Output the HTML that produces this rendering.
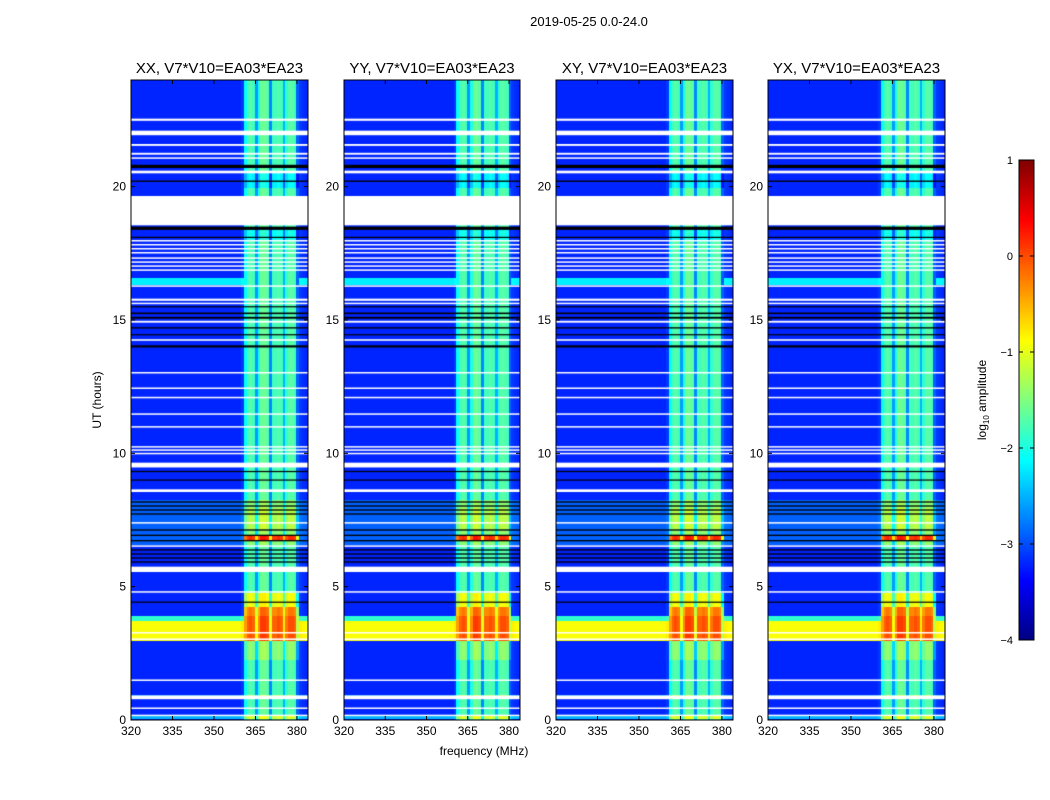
<!DOCTYPE html>
<html><head><meta charset="utf-8">
<style>
body{margin:0;background:#fff;width:1050px;height:800px;overflow:hidden;font-family:"Liberation Sans",sans-serif;}
#wrap{position:relative;width:1050px;height:800px;}
canvas{position:absolute;}
svg{position:absolute;left:0;top:0;}
</style></head><body>
<div id="wrap">
<canvas id="c0" width="177" height="640" style="left:131px;top:80px"></canvas>
<canvas id="c1" width="176" height="640" style="left:344px;top:80px"></canvas>
<canvas id="c2" width="177" height="640" style="left:556px;top:80px"></canvas>
<canvas id="c3" width="177" height="640" style="left:768px;top:80px"></canvas>
<canvas id="cb" width="15" height="480" style="left:1019px;top:160px"></canvas>
<svg id="s" width="1050" height="800"></svg>
</div>
<script>
const panelTitles=["XX, V7*V10=EA03*EA23","YY, V7*V10=EA03*EA23","XY, V7*V10=EA03*EA23","YX, V7*V10=EA03*EA23"];
const xTicks=[320,335,350,365,380];
const yTicks=[0,5,10,15,20];
const cbTicks=[1,0,-1,-2,-3,-4];
// frequency profile, 1 MHz bins from 320 to 383
const freqProfile=[-3.2,-3.2,-3.2,-3.2,-3.2,-3.2,-3.2,-3.2,-3.2,-3.2,-3.2,-3.2,-3.2,-3.2,-3.2,-3.2,-3.2,-3.2,-3.2,-3.2,-3.2,-3.2,-3.2,-3.2,-3.2,-3.2,-3.2,-3.2,-3.2,-3.2,-3.2,-3.2,-3.2,-3.2,-3.2,-3.2,-3.2,-3.2,-3.2,-3.2,-3.1,-2.1,-1.8,-1.7,-1.8,-2.6,-2.0,-1.6,-1.6,-1.7,-2.7,-1.8,-1.8,-1.7,-1.8,-2.5,-1.9,-1.7,-1.7,-1.8,-2.9,-3.1,-3.15,-3.2];
// time segments [startHour,endHour,offset] applied to all channels
const timeOffset=[[16.35,16.6,1.0],[5.6,5.8,0.8],[3.0,3.75,2.3],[3.75,3.95,1.3],[0.1,0.25,0.7],[0.9,1.0,0.5],[6.6,8.3,0.3]];
// time segments [startHour,endHour,boost] applied to bright band channels
const bandBoost=[[3.0,3.75,-0.6],[3.75,3.95,0.4],[3.95,4.3,1.5],[4.3,4.8,0.8],[6.8,7.0,1.6],[2.3,3.0,0.3],[7.2,8.0,0.2],[20.0,20.6,-0.4],[18.0,18.5,-0.3],[16.35,16.6,-1.0],[5.6,5.8,-0.8]];
// flagged (white) intervals in hours
const flagged=[[22.47,22.55],[21.93,22.1],[21.53,21.6],[21.2,21.27],[21.05,21.1],[20.5,20.6],[18.55,19.65],[17.95,18.0],[17.8,17.85],[17.65,17.7],[17.5,17.55],[17.3,17.35],[17.15,17.2],[17.0,17.05],[16.85,16.9],[16.25,16.3],[15.72,15.8],[15.6,15.65],[14.9,14.97],[14.22,14.28],[13.0,13.05],[12.42,12.47],[12.07,12.12],[11.45,11.5],[10.97,11.02],[10.22,10.27],[10.1,10.15],[9.97,10.02],[9.47,9.65],[8.55,8.65],[7.38,7.42],[6.5,6.55],[5.55,5.75],[4.78,4.83],[3.26,3.3],[3.0,3.06],[1.47,1.52],[0.78,0.92],[0.42,0.47],[0.15,0.2]];
// black intervals in hours
const blackLines=[[20.7,20.82],[20.18,20.23],[18.38,18.5],[18.08,18.12],[15.48,15.52],[15.22,15.28],[15.05,15.12],[14.68,14.73],[14.43,14.47],[13.97,14.05],[9.3,9.34],[8.98,9.02],[8.15,8.2],[8.0,8.05],[7.85,7.9],[7.7,7.75],[7.1,7.15],[6.9,6.95],[6.7,6.75],[6.35,6.4],[6.2,6.25],[6.05,6.1],[5.9,5.95],[4.4,4.44]];

function jet(v){v=Math.max(0,Math.min(1,v));
 const r=Math.max(0,Math.min(1,1.5-Math.abs(4*v-3))),g=Math.max(0,Math.min(1,1.5-Math.abs(4*v-2))),b=Math.max(0,Math.min(1,1.5-Math.abs(4*v-1)));
 return `rgb(${Math.round(r*255)},${Math.round(g*255)},${Math.round(b*255)})`;}
const cmap=v=>jet((v+4)/5);
const T0=0,T1=24,F0=320,F1=384,PH=640,TOPY=80;
const ty=(t,tp)=>tp+PH-(t-T0)/(T1-T0)*PH;
function segVal(arr,t){let s=0;for(const a of arr){if(t>=a[0]&&t<a[1])s+=a[2];}return s;}
function drawPanel(id,w){
 const c=document.getElementById(id),ctx=c.getContext('2d');
 const fx=f=>(f-F0)/(F1-F0)*w;
 const dt=0.05;
 for(let t=0;t<24;t+=dt){
  const o=segVal(timeOffset,t+dt/2),bb=segVal(bandBoost,t+dt/2);
  const y0=ty(t+dt,0),y1=ty(t,0);
  for(let i=0;i<freqProfile.length;i++){
   const inBand=freqProfile[i]>-3.05;
   const v=freqProfile[i]+o+(inBand?bb:0);
   ctx.fillStyle=cmap(v);
   const x0=fx(F0+i),x1=fx(F0+i+1);
   ctx.fillRect(Math.floor(x0),Math.floor(y0),Math.ceil(x1-x0)+1,Math.ceil(y1-y0)+1);
  }
 }
 ctx.fillStyle='#fff';
 for(const f of flagged){ctx.fillRect(0,ty(f[1],0),w,Math.max(1.5,ty(f[0],0)-ty(f[1],0)));}
 ctx.fillStyle='#000';
 for(const f of blackLines){ctx.fillRect(0,ty(f[1],0),w,Math.max(1.2,ty(f[0],0)-ty(f[1],0)));}
}
["c0","c1","c2","c3"].forEach(id=>drawPanel(id,document.getElementById(id).width));
(function(){const c=document.getElementById('cb'),ctx=c.getContext('2d');
 for(let y=0;y<480;y++){ctx.fillStyle=cmap(1-y/480*5);ctx.fillRect(0,y,15,1);}})();

const NS='http://www.w3.org/2000/svg',svgRoot=document.getElementById('s');
function el(tag,attrs,txt){const e=document.createElementNS(NS,tag);for(const k in attrs)e.setAttribute(k,attrs[k]);if(txt!==undefined)e.textContent=txt;svgRoot.appendChild(e);return e;}
const lefts=[131,344,556,768],widths=[177,176,177,177];
lefts.forEach((L,p)=>{
 const w=widths[p];
 const fr=el('rect',{x:L,y:TOPY,width:w,height:PH,fill:'none',stroke:'#000','stroke-width':1});
 
 
 const tt=el('text',{x:L+w/2,y:TOPY-7,'text-anchor':'middle','font-size':15,fill:'#000'},panelTitles[p]);
 
 
 xTicks.forEach(f=>{const x=L+(f-F0)/(F1-F0)*w;
  el('line',{x1:x,x2:x,y1:TOPY+PH,y2:TOPY+PH-4,stroke:'#000'});
  el('line',{x1:x,x2:x,y1:TOPY,y2:TOPY+4,stroke:'#000'});
  const lb=el('text',{x:x,y:TOPY+PH+15,'text-anchor':'middle','font-size':12,fill:'#000'},String(f));
  
  });
 yTicks.forEach(t=>{const y=ty(t,TOPY);
  el('line',{x1:L,x2:L+4,y1:y,y2:y,stroke:'#000'});
  el('line',{x1:L+w,x2:L+w-4,y1:y,y2:y,stroke:'#000'});
  const lb=el('text',{x:L-5,y:y+4,'text-anchor':'end','font-size':12,fill:'#000'},String(t));
  
  });
});
const st=el('text',{x:589,y:26,'text-anchor':'middle','font-size':13,fill:'#000'},'2019-05-25 0.0-24.0');


const xl=el('text',{x:484,y:755,'text-anchor':'middle','font-size':12,fill:'#000'},'frequency (MHz)');


const yl=el('text',{x:0,y:0,'text-anchor':'middle','font-size':12,fill:'#000',transform:'translate(101,400) rotate(-90)'},'UT (hours)');


const cf=el('rect',{x:1019,y:160,width:15,height:480,fill:'none',stroke:'#000'});


cbTicks.forEach(v=>{const y=160+(1-v)/5*480;
 el('line',{x1:1019,x2:1023,y1:y,y2:y,stroke:'#000'});el('line',{x1:1030,x2:1034,y1:y,y2:y,stroke:'#000'});
 const lb=el('text',{x:1013,y:y+4,'text-anchor':'end','font-size':11,fill:'#000'},v<0?'\u2212'+(-v):String(v));
 
 });
const cl=el('text',{x:0,y:0,'text-anchor':'middle','font-size':12,fill:'#000',transform:'translate(986,400) rotate(-90)'});


cl.innerHTML='log<tspan font-size="8" dy="3">10</tspan><tspan dy="-3"> amplitude</tspan>';
</script>
</body></html>
